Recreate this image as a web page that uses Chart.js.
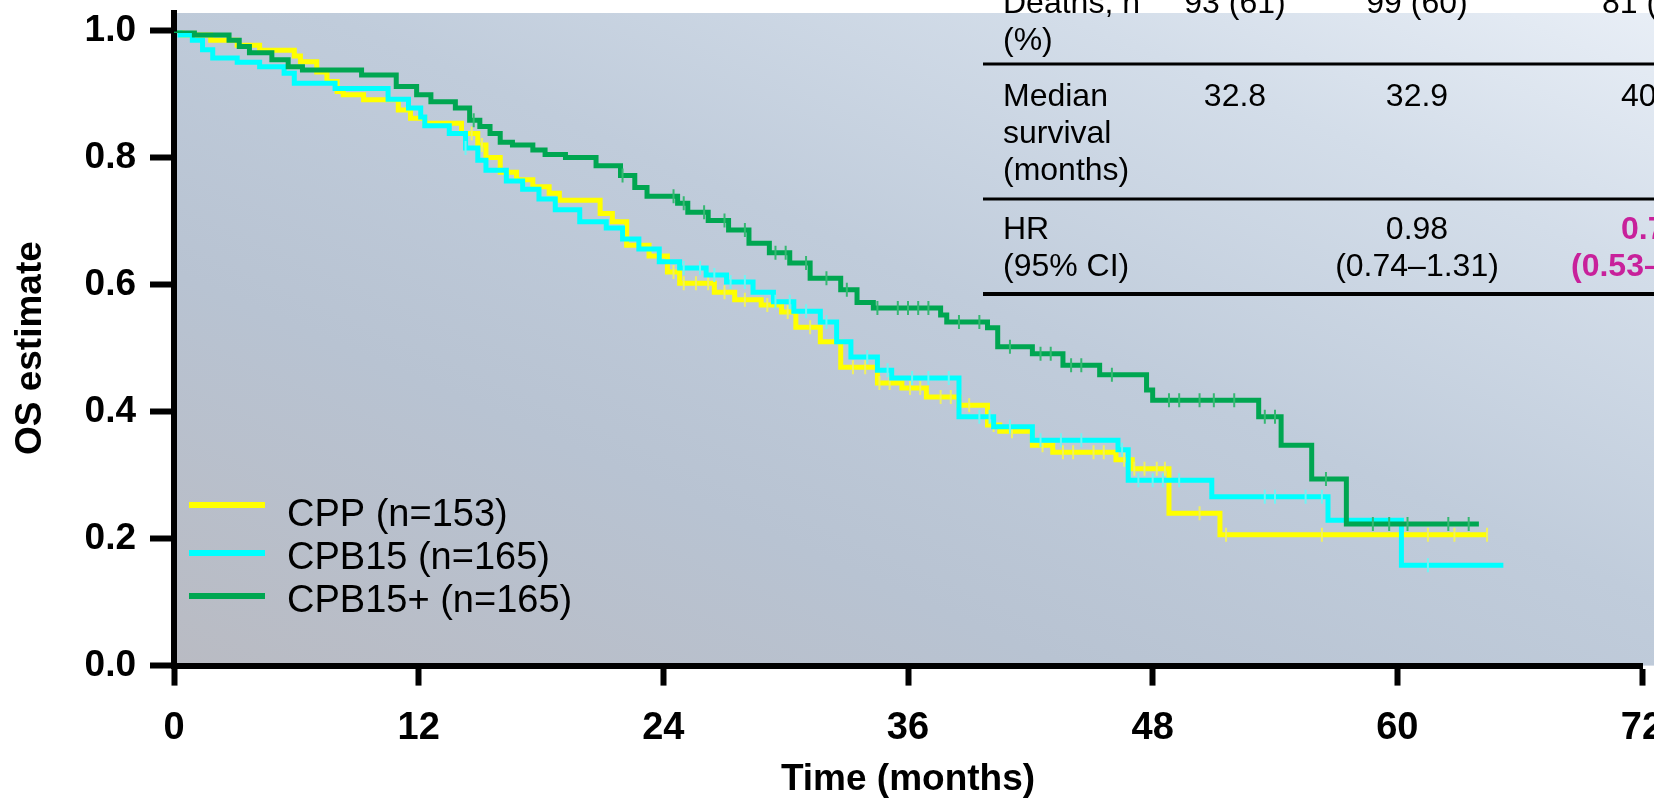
<!DOCTYPE html>
<html>
<head>
<meta charset="utf-8">
<script src="https://cdn.jsdelivr.net/npm/chart.js@4.4.1/dist/chart.umd.min.js"></script>
<style>
  html, body { margin: 0; padding: 0; background: #fff; }
  #wrap { width: 1654px; height: 803px; position: relative; }
</style>
</head>
<body>
<div id="wrap"><canvas id="canvas" width="1654" height="803"></canvas></div>
<script>
const FONT = "'Liberation Sans', Arial, Helvetica, sans-serif"

// axes
const xTicks = [0, 12, 24, 36, 48, 60, 72]
const yTicks = [0, 0.2, 0.4, 0.6, 0.8, 1.0]

// series
const seriesLabels = ['CPP (n=153)', 'CPB15 (n=165)', 'CPB15+ (n=165)']
const seriesColors = ['#ffff00', '#00ffff', '#00a651']
const censorColors = ['#f0f060', '#70f4f4', '#35b872']

// CPP - step times (months) and OS estimate after each step
const cppTime = [0, 0.4, 1.8, 3.1, 4.2, 5.9, 6.2, 7.0, 7.5, 8.0, 8.3, 9.3, 11.0, 11.6, 12.3, 14.1, 14.9, 15.3, 16.0, 16.8,
  17.6, 18.4, 18.9, 20.9, 21.5, 22.2, 23.3, 24.2, 24.8, 26.5, 27.5, 28.8, 29.8, 30.5, 31.7, 32.7, 34.5, 35.7, 36.9, 38.5,
  39.9, 40.5, 42.1, 43.1, 46.2, 47.0, 48.8, 51.3, 64.4]
const cppSurv = [1.0, 0.993, 0.985, 0.977, 0.969, 0.96, 0.951, 0.935, 0.92, 0.904, 0.899, 0.891, 0.875, 0.862, 0.854, 0.838, 0.82, 0.8, 0.777, 0.765,
  0.754, 0.744, 0.733, 0.712, 0.699, 0.662, 0.645, 0.62, 0.602, 0.588, 0.576, 0.568, 0.557, 0.533, 0.51, 0.47, 0.445, 0.437, 0.423, 0.41,
  0.379, 0.369, 0.347, 0.336, 0.324, 0.31, 0.24, 0.206, 0.206]
const cppCensor = [1.0, 14.6, 15.1, 24.5, 25.0, 25.6, 26.2, 27.0, 28.0, 29.1, 30.1, 31.2, 33.3, 33.9, 34.6, 35.1, 36.1, 36.6, 37.6, 38.1,
  39.0, 40.2, 41.1, 42.6, 43.6, 44.1, 45.1, 45.6, 46.6, 47.1, 47.6, 48.2, 48.6, 50.3, 51.6, 56.3, 61.5, 62.8, 64.4]

// CPB15
const cpb15Time = [0, 0.3, 0.9, 1.4, 1.9, 3.1, 4.2, 5.4, 5.9, 7.9, 10.5, 11.5, 12.1, 12.3, 13.5, 14.3, 14.9, 15.3, 16.3, 17.1,
  17.9, 18.7, 19.9, 21.2, 22.0, 22.8, 23.8, 24.8, 26.1, 27.1, 28.4, 29.4, 30.4, 31.7, 32.5, 33.2, 34.5, 35.2, 38.5, 40.2,
  42.1, 46.3, 46.8, 50.9, 56.6, 60.2, 65.2]
const cpb15Surv = [1.0, 0.993, 0.985, 0.97, 0.957, 0.95, 0.943, 0.933, 0.917, 0.909, 0.892, 0.878, 0.864, 0.85, 0.838, 0.815, 0.796, 0.78, 0.763, 0.75,
  0.735, 0.718, 0.699, 0.689, 0.672, 0.656, 0.636, 0.626, 0.615, 0.604, 0.588, 0.573, 0.558, 0.541, 0.51, 0.486, 0.465, 0.453, 0.392, 0.376,
  0.355, 0.34, 0.292, 0.266, 0.229, 0.158, 0.158]
const cpb15Censor = [14.3, 25.0, 25.8, 26.5, 27.3, 28.0, 29.5, 30.2, 31.0, 32.0, 34.0, 35.0, 36.2, 37.0, 38.0, 39.5, 40.0, 41.0, 42.5, 43.5,
  44.5, 46.5, 47.3, 48.0, 48.5, 49.3, 53.5, 54.0, 55.5, 56.3, 61.5]

// CPB15+
const cpb15PlusTime = [0, 1.0, 2.7, 3.2, 3.7, 4.8, 5.6, 6.3, 9.2, 10.9, 11.9, 12.6, 13.8, 14.5, 15.0, 15.5, 16.0, 16.6, 17.6, 18.2,
  19.2, 20.7, 21.9, 22.6, 23.2, 24.7, 25.2, 26.2, 27.2, 28.2, 29.2, 30.2, 31.2, 32.7, 33.5, 34.3, 37.6, 37.9, 39.9, 40.4,
  42.1, 43.6, 45.4, 47.7, 48.0, 53.2, 54.3, 55.8, 57.5, 64.0]
const cpb15PlusSurv = [1.0, 0.993, 0.985, 0.975, 0.965, 0.954, 0.943, 0.938, 0.93, 0.912, 0.899, 0.888, 0.878, 0.859, 0.849, 0.838, 0.824, 0.82, 0.812, 0.805,
  0.8, 0.787, 0.772, 0.753, 0.739, 0.728, 0.714, 0.701, 0.686, 0.665, 0.65, 0.634, 0.61, 0.592, 0.572, 0.563, 0.552, 0.541, 0.532, 0.502,
  0.491, 0.473, 0.458, 0.434, 0.418, 0.392, 0.347, 0.294, 0.223, 0.223]
const cpb15PlusCensor = [14.7, 22.0, 24.5, 25.0, 26.0, 27.0, 28.0, 29.5, 30.0, 31.0, 32.0, 33.0, 34.5, 35.5, 36.0, 36.5, 37.0, 38.5, 39.5, 41.0,
  42.5, 43.0, 44.0, 44.5, 46.0, 48.8, 49.3, 50.3, 51.0, 52.0, 53.5, 54.0, 56.5, 58.8, 59.6, 60.5, 62.5, 63.5]

// summary table (right part is cut off in the original)
const tableRowLabels = [['Deaths, n', '(%)'], ['Median', 'survival', '(months)'], ['HR', '(95% CI)']]
const tableCpp = [['93 (61)'], ['32.8'], []]
const tableCpb15 = [['99 (60)'], ['32.9'], ['0.98', '(0.74–1.31)']]
const tableCpb15Plus = [['81 ('], ['40'], ['0.7', '(0.53–']]

function survAt(times, surv, t) {
  let v = surv[0]
  for (let i = 0; i < times.length; i++) {
    if (times[i] <= t) v = surv[i]
  }
  return v
}

function curve(times, surv) {
  return times.map((t, i) => ({ x: t, y: surv[i] }))
}

function censorPoints(times, surv, censor) {
  return censor.map(t => ({ x: t, y: survAt(times, surv, t) }))
}

const allTimes = [cppTime, cpb15Time, cpb15PlusTime]
const allSurv = [cppSurv, cpb15Surv, cpb15PlusSurv]
const allCensor = [cppCensor, cpb15Censor, cpb15PlusCensor]

let datasets = []
for (let i = 0; i < 3; i++) {
  datasets.push({
    type: 'line',
    label: seriesLabels[i],
    data: curve(allTimes[i], allSurv[i]),
    stepped: true,
    borderColor: seriesColors[i],
    backgroundColor: seriesColors[i],
    borderWidth: 5,
    borderJoinStyle: 'miter',
    pointRadius: 0,
    fill: false,
    order: 10 - i * 2
  })
  datasets.push({
    type: 'scatter',
    label: seriesLabels[i] + ' censored',
    data: censorPoints(allTimes[i], allSurv[i], allCensor[i]),
    pointStyle: 'line',
    rotation: 90,
    pointRadius: 7,
    pointBorderWidth: 2,
    pointBorderColor: censorColors[i],
    borderColor: censorColors[i],
    showLine: false,
    order: 9 - i * 2
  })
}

// background gradient behind the plot
const backgroundPlugin = {
  id: 'backgroundPlugin',
  beforeDraw(chart) {
    const { ctx, chartArea, width } = chart
    const top = 13
    const g = ctx.createLinearGradient(674, 884, 1154, -206)
    g.addColorStop(0, '#b9bbc3')
    g.addColorStop(0.3, '#b8c3d2')
    g.addColorStop(0.55, '#c0ccdb')
    g.addColorStop(0.8, '#d3dde9')
    g.addColorStop(1, '#e8eef6')
    ctx.save()
    ctx.fillStyle = g
    ctx.fillRect(chartArea.left, top, width - chartArea.left, chartArea.bottom - top)
    ctx.restore()
  }
}

// legend, table, axis extension
const overlayPlugin = {
  id: 'overlayPlugin',
  afterDraw(chart) {
    const { ctx, chartArea } = chart
    ctx.save()

    // y axis goes a little above 1.0
    ctx.strokeStyle = '#000'
    ctx.lineWidth = 6
    ctx.beginPath()
    ctx.moveTo(chartArea.left, 10)
    ctx.lineTo(chartArea.left, chartArea.top + 1)
    ctx.stroke()

    // legend
    const legendLineY = [505, 553, 596]
    const legendTextY = [526, 569, 612]
    ctx.font = '38px ' + FONT
    ctx.textAlign = 'left'
    ctx.textBaseline = 'alphabetic'
    for (let i = 0; i < 3; i++) {
      const ds = chart.data.datasets[i * 2]
      ctx.strokeStyle = ds.borderColor
      ctx.lineWidth = 6
      ctx.beginPath()
      ctx.moveTo(189, legendLineY[i])
      ctx.lineTo(265, legendLineY[i])
      ctx.stroke()
      ctx.fillStyle = '#000'
      ctx.fillText(ds.label, 287, legendTextY[i])
    }

    // table
    const rowBase = [13, 106, 239]
    const lineH = 37
    const rules = [[64, 3], [199, 3], [294, 4]]
    ctx.font = '32px ' + FONT
    ctx.fillStyle = '#000'
    for (let r = 0; r < 3; r++) {
      ctx.textAlign = 'left'
      tableRowLabels[r].forEach((t, k) => ctx.fillText(t, 1003, rowBase[r] + k * lineH))
      ctx.textAlign = 'center'
      tableCpp[r].forEach((t, k) => ctx.fillText(t, 1235, rowBase[r] + k * lineH))
      tableCpb15[r].forEach((t, k) => ctx.fillText(t, 1417, rowBase[r] + k * lineH))
    }
    ctx.textAlign = 'left'
    ctx.fillText(tableCpb15Plus[0][0], 1602, rowBase[0])
    ctx.fillText(tableCpb15Plus[1][0], 1621, rowBase[1])
    ctx.font = 'bold 32px ' + FONT
    ctx.fillStyle = '#c8219b'
    ctx.fillText(tableCpb15Plus[2][0], 1621, rowBase[2])
    ctx.fillText(tableCpb15Plus[2][1], 1571, rowBase[2] + lineH)

    ctx.fillStyle = '#000'
    rules.forEach(([y, w]) => ctx.fillRect(983, y - w / 2, chart.width - 983, w))

    ctx.restore()
  }
}

const canvas = document.getElementById('canvas')
const ctx = canvas.getContext('2d')

new Chart(ctx, {
  data: { datasets: datasets },
  options: {
    responsive: false,
    animation: false,
    devicePixelRatio: 1,
    layout: { padding: { top: 30.6, right: 12, bottom: 0, left: 0 } },
    plugins: {
      legend: { display: false },
      tooltip: { enabled: false }
    },
    scales: {
      x: {
        type: 'linear',
        min: 0,
        max: 72,
        afterBuildTicks: s => { s.ticks = xTicks.map(v => ({ value: v })) },
        afterFit: s => { s.height = 137.4; s.paddingLeft = 0; s.paddingRight = 0 },
        grid: { display: true, drawOnChartArea: false, drawTicks: true, tickLength: 20, tickWidth: 6, tickColor: '#000' },
        border: { display: true, color: '#000', width: 6 },
        ticks: {
          color: '#000',
          font: { family: FONT, size: 38, weight: 'bold' },
          padding: 20,
          maxRotation: 0,
          autoSkip: false
        },
        title: {
          display: true,
          text: 'Time (months)',
          color: '#000',
          font: { family: FONT, size: 37, weight: 'bold' },
          padding: { top: 0, bottom: 1 }
        }
      },
      y: {
        type: 'linear',
        min: 0,
        max: 1,
        afterBuildTicks: s => { s.ticks = yTicks.map(v => ({ value: v })) },
        afterFit: s => { s.width = 174; s.paddingTop = 0; s.paddingBottom = 0 },
        grid: { display: true, drawOnChartArea: false, drawTicks: true, tickLength: 24, tickWidth: 6, tickColor: '#000' },
        border: { display: true, color: '#000', width: 6 },
        ticks: {
          color: '#000',
          font: { family: FONT, size: 37, weight: 'bold' },
          padding: 14,
          callback: v => v.toFixed(1)
        },
        title: {
          display: true,
          text: 'OS estimate',
          color: '#000',
          font: { family: FONT, size: 37, weight: 'bold' },
          padding: { top: 9, bottom: 0 }
        }
      }
    }
  },
  plugins: [backgroundPlugin, overlayPlugin]
})
</script>
</body>
</html>
